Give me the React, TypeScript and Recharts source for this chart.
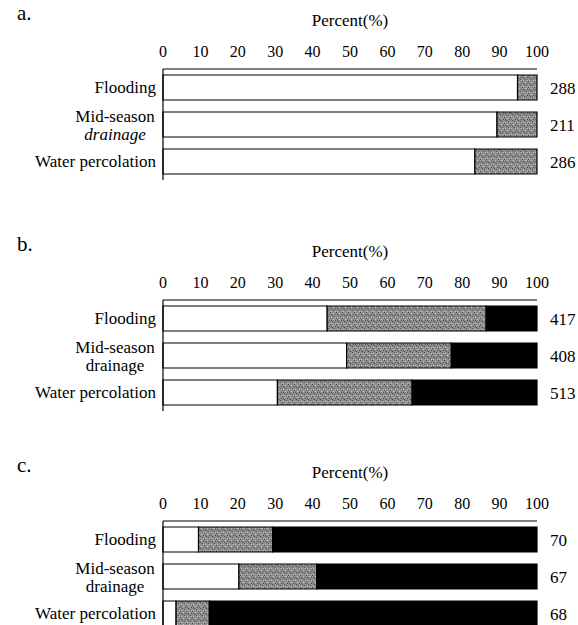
import { BarChart, Bar, XAxis, YAxis, LabelList } from "recharts";

const categories = ["Flooding", "Mid-season drainage", "Water percolation"];
const percentTicks = [0, 10, 20, 30, 40, 50, 60, 70, 80, 90, 100];

// panel a
const aWhite = [94.8, 89.3, 83.4];
const aGray = [5.2, 10.7, 16.6];
const aCounts = [288, 211, 286];

// panel b
const bWhite = [43.9, 49.1, 30.6];
const bGray = [42.5, 28.0, 36.0];
const bBlack = [13.6, 22.9, 33.4];
const bCounts = [417, 408, 513];

// panel c
const cWhite = [9.5, 20.3, 3.5];
const cGray = [19.8, 20.8, 8.9];
const cBlack = [70.7, 58.9, 87.6];
const cCounts = [70, 67, 68];

const FONT = "'Liberation Serif', 'Times New Roman', serif";

function rows(white: number[], gray: number[], black: number[] | null, counts: number[]) {
  return categories.map((name, i) => ({
    name,
    white: white[i],
    gray: gray[i],
    black: black ? black[i] : 0,
    n: counts[i],
  }));
}

function CategoryTick(props: any) {
  const { x, y, payload, italicSecond } = props;
  const label: string = payload.value;
  if (label === "Mid-season drainage") {
    const cx = x - 40;
    return (
      <g>
        <text x={cx} y={y - 8} textAnchor="middle" dominantBaseline="central" fontSize={17} fontFamily={FONT} fill="#000">
          Mid-season
        </text>
        <text
          x={cx}
          y={y + 10}
          textAnchor="middle"
          dominantBaseline="central"
          fontSize={17}
          fontFamily={FONT}
          fontStyle={italicSecond ? "italic" : "normal"}
          fill="#000"
        >
          drainage
        </text>
      </g>
    );
  }
  return (
    <text x={x + 1} y={y} textAnchor="end" dominantBaseline="central" fontSize={17} fontFamily={FONT} fill="#000">
      {label}
    </text>
  );
}

interface PanelProps {
  letter: string;
  top: number;
  data: any[];
  hasBlack: boolean;
  italicSecond?: boolean;
}

function Panel({ letter, top, data, hasBlack, italicSecond }: PanelProps) {
  // top = y of the chart's top axis line
  return (
    <>
      <div
        style={{
          position: "absolute",
          left: 17,
          top: top - 68,
          fontFamily: FONT,
          fontSize: 21,
          lineHeight: "24px",
        }}
      >
        {letter}
      </div>
      <div
        style={{
          position: "absolute",
          left: 250,
          width: 200,
          top: top - 58,
          textAlign: "center",
          fontFamily: FONT,
          fontSize: 17,
          lineHeight: "20px",
        }}
      >
        Percent(%)
      </div>
      <div style={{ position: "absolute", left: 0, top: top - 30 }}>
        <BarChart
          width={578}
          height={141}
          data={data}
          layout="vertical"
          margin={{ top: 0, right: 41, bottom: 0, left: 0 }}
        >
          <XAxis
            type="number"
            orientation="top"
            domain={[0, 100]}
            ticks={percentTicks}
            interval={0}
            height={30}
            axisLine={{ stroke: "#000", strokeWidth: 1.2 }}
            tickLine={false}
            tickMargin={6}
            tick={{ fill: "#000", fontSize: 16, fontFamily: FONT }}
          />
          <YAxis
            type="category"
            dataKey="name"
            width={163}
            axisLine={{ stroke: "#000", strokeWidth: 1.2 }}
            tickLine={false}
            tick={<CategoryTick italicSecond={italicSecond} />}
          />
          <Bar dataKey="white" stackId="s" fill="#fff" stroke="#000" strokeWidth={1.2} barSize={25} isAnimationActive={false} />
          <Bar dataKey="gray" stackId="s" fill="url(#stipple)" stroke="#000" strokeWidth={1.2} barSize={25} isAnimationActive={false}>
            {!hasBlack && (
              <LabelList dataKey="n" position="right" offset={13} fill="#000" fontSize={17} fontFamily={FONT} />
            )}
          </Bar>
          {hasBlack && (
            <Bar dataKey="black" stackId="s" fill="#000" stroke="#000" strokeWidth={1.2} barSize={25} isAnimationActive={false}>
              <LabelList dataKey="n" position="right" offset={13} fill="#000" fontSize={17} fontFamily={FONT} />
            </Bar>
          )}
        </BarChart>
      </div>
    </>
  );
}

export default function App() {
  return (
    <div
      style={{
        position: "absolute",
        left: 0,
        top: 0,
        width: 578,
        height: 625,
        overflow: "hidden",
        background: "#fff",
      }}
    >
      <svg width={0} height={0} style={{ position: "absolute" }}>
        <defs>
          <pattern id="stipple" width={6} height={6} patternUnits="userSpaceOnUse">
            <rect width={6} height={6} fill="#8f8f8f" />
            <rect x={0} y={0} width={1} height={1} fill="#4a4a4a" />
            <rect x={3} y={1} width={1} height={1} fill="#c4c4c4" />
            <rect x={2} y={3} width={1} height={1} fill="#454545" />
            <rect x={5} y={2} width={1} height={1} fill="#555" />
            <rect x={1} y={5} width={1} height={1} fill="#bdbdbd" />
            <rect x={4} y={4} width={1} height={1} fill="#505050" />
            <rect x={5} y={5} width={1} height={1} fill="#bcbcbc" />
            <rect x={1} y={2} width={1} height={1} fill="#606060" />
          </pattern>
        </defs>
      </svg>
      <Panel letter="a." top={69} data={rows(aWhite, aGray, null, aCounts)} hasBlack={false} italicSecond />
      <Panel letter="b." top={300} data={rows(bWhite, bGray, bBlack, bCounts)} hasBlack />
      <Panel letter="c." top={521} data={rows(cWhite, cGray, cBlack, cCounts)} hasBlack />
    </div>
  );
}
